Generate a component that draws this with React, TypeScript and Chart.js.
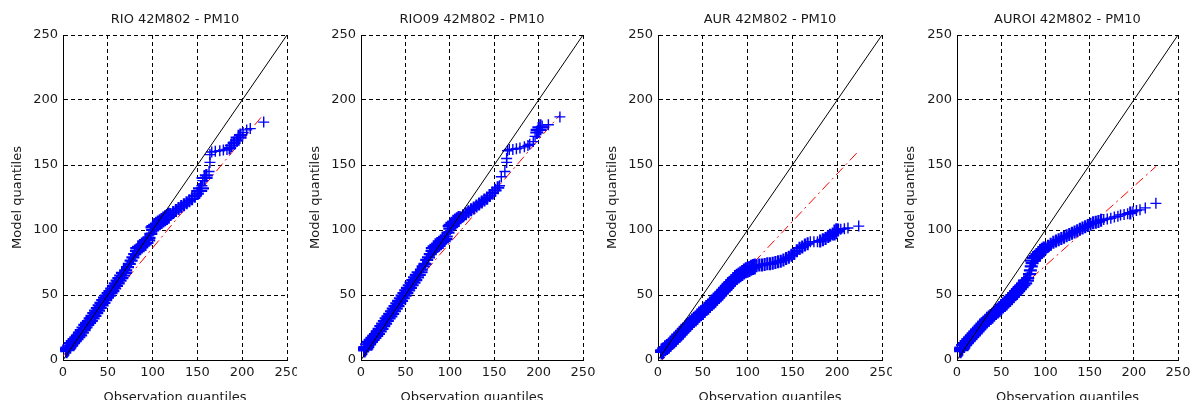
import React, { useEffect, useRef } from "react";
import { Chart, registerables } from "chart.js";

Chart.register(...registerables);

// ---------- data ----------
const panelTitles = ["RIO 42M802 - PM10", "RIO09 42M802 - PM10", "AUR 42M802 - PM10", "AUROI 42M802 - PM10"];
const xAxisTitle = "Observation quantiles";
const yAxisTitle = "Model quantiles";
const tickValues = [0, 50, 100, 150, 200, 250];

// RIO
const rioObs = [3, 4, 5, 6, 8, 10, 12, 14, 16, 18, 20, 22, 24, 26, 28, 30, 32, 34, 36, 38, 40, 42, 44, 46, 48, 50, 52, 54, 56, 58, 60, 62, 64, 66, 68, 70, 72, 74, 76, 78, 80, 82, 84, 86, 88, 90, 92, 94, 96, 98, 100, 101, 102, 104, 106, 108, 110, 112, 114, 116, 118, 120, 123, 126, 129, 132, 135, 138, 141, 144, 147, 150, 152, 154, 155, 156, 158, 160, 163, 164, 164, 166, 170, 175, 179, 183, 186, 188, 191, 194, 196, 198, 201, 205, 209, 224];
const rioMod = [6.5, 7.5, 8.5, 9.5, 11, 13, 14.5, 16, 17.5, 19, 21, 23, 25, 27, 28.5, 30, 32, 34, 36, 38, 40, 42, 44, 46, 48, 49.5, 51.5, 53, 55, 57, 59, 61, 63, 65, 67, 69, 71.5, 74, 76.5, 79, 81.5, 84, 86, 87, 88, 89, 90, 92, 94, 97, 100, 102, 103, 104, 105, 106, 107, 108, 109, 110, 111, 112, 113.5, 115, 116.5, 118, 119.5, 121, 122.5, 124, 126, 128, 130, 132, 134, 138, 140, 142, 145, 152, 158, 160, 160.5, 161, 161.5, 162, 163, 165, 167, 169, 171, 173, 175, 177, 178, 183];
const rioFitX = [0, 224];
const rioFitY = [3.2, 189.1];

// RIO09
const rio09Obs = [3, 4, 5, 6, 8, 10, 12, 14, 16, 18, 20, 22, 24, 26, 28, 30, 32, 34, 36, 38, 40, 42, 44, 46, 48, 50, 52, 54, 56, 58, 60, 62, 64, 66, 68, 70, 72, 74, 76, 78, 80, 82, 84, 86, 88, 90, 92, 94, 96, 98, 100, 101, 102, 104, 106, 108, 110, 112, 115, 118, 121, 124, 127, 130, 133, 136, 139, 142, 145, 148, 151, 154, 156, 158, 162, 164, 164, 165, 167, 171, 175, 179, 184, 188, 190, 194, 196, 198, 200, 202, 204, 211, 224];
const rio09Mod = [7, 8, 9, 10, 12, 14, 15.5, 17, 18.5, 20, 22, 24, 26, 28, 30, 32, 33.5, 35.5, 37.5, 39.5, 41.5, 43.5, 45.5, 47.5, 49.5, 51.5, 53.5, 55.5, 57.5, 59.5, 61.5, 63.5, 65.5, 67.5, 69.5, 72, 74, 77, 79, 81.5, 84, 86, 87.5, 88.5, 89.5, 90.5, 91.5, 93, 95, 98, 101, 103, 104, 105.5, 106.5, 107.5, 108.5, 109.5, 111, 112.5, 114, 115.5, 117, 118.5, 120, 121.5, 123, 124.5, 126.5, 128.5, 130.5, 132.5, 134, 141, 145, 152, 155, 161, 162, 162, 162.5, 163, 164, 165, 166, 168, 172, 175, 177, 179, 180, 181, 187];
const rio09FitX = [0, 224];
const rio09FitY = [10.5, 188.6];

// AUR
const aurObs = [3, 4, 5, 6, 8, 10, 12, 14, 16, 18, 20, 22, 24, 26, 28, 30, 32, 34, 36, 38, 40, 42, 44, 46, 48, 50, 52, 54, 56, 58, 60, 62, 64, 66, 68, 70, 72, 74, 76, 78, 80, 82, 84, 86, 88, 90, 92, 94, 96, 98, 100, 102, 104, 106, 108, 110, 113, 116, 119, 122, 125, 128, 131, 134, 137, 140, 143, 146, 149, 152, 155, 158, 161, 164, 167, 170, 174, 178, 181, 184, 187, 190, 192, 195, 197, 199, 201, 204, 208, 212, 224];
const aurMod = [6, 6.5, 7, 7.5, 9, 10, 11, 12.5, 14, 15, 16.5, 18, 19.5, 21, 22.5, 24, 25.5, 27, 28, 29.5, 31, 32, 33.5, 35, 36, 37, 38.5, 40, 41, 42.5, 44, 45, 46.5, 48, 49.5, 51, 52.5, 54, 55.5, 57, 58.5, 60, 61.5, 63, 64, 65, 66, 67, 68, 69, 69.5, 70, 71, 71.5, 72, 72.5, 73, 73, 73.5, 74, 74, 74.5, 75, 75.5, 76, 77, 78, 79, 80.5, 82, 84, 86, 87, 88.5, 89.5, 91, 91, 91, 91.5, 92.5, 93.5, 95, 96, 97, 98, 99, 100, 100.5, 101, 101.5, 103];
const aurFitX = [0, 224];
const aurFitY = [-3.4, 160.8];

// AUROI
const auroiObs = [3, 4, 5, 6, 8, 10, 12, 14, 16, 18, 20, 22, 24, 26, 28, 30, 32, 34, 36, 38, 40, 42, 44, 46, 48, 50, 52, 54, 56, 58, 60, 62, 64, 66, 68, 70, 72, 74, 76, 78, 80, 82, 83, 84, 85, 86, 88, 90, 92, 94, 96, 98, 100, 103, 106, 109, 112, 115, 118, 121, 124, 127, 130, 133, 136, 139, 142, 145, 148, 151, 154, 157, 160, 163, 166, 170, 174, 178, 182, 185, 189, 193, 196, 199, 203, 207, 213, 225];
const auroiMod = [6.5, 7.5, 8.5, 9.5, 11.5, 13, 14.5, 16, 17.5, 19, 20.5, 22, 23.5, 25, 26.5, 28, 29.5, 31, 32, 33, 34, 35.5, 37, 38, 39, 40.5, 42, 43, 44.5, 46, 47, 48.5, 50, 51.5, 53, 54.5, 56, 57.5, 59, 61, 63, 66, 69, 72, 74.5, 76.5, 78.5, 80, 81.5, 83, 84, 85, 86, 87.5, 89, 90.5, 91.5, 92.5, 93.5, 94.5, 95.5, 96.5, 97.5, 98.5, 99.5, 100.5, 101.5, 102.5, 103.5, 104.5, 105.5, 106, 106.5, 107.5, 108, 108.5, 109, 110, 110.5, 111.5, 112, 112.5, 113, 114, 115, 115.5, 117, 120.5];
const auroiFitX = [0, 225];
const auroiFitY = [11.5, 148.8];

const refLineX = [0, 250];
const refLineY = [0, 250];

// ---------- layout ----------
const CANVAS_W = 297;
const CANVAS_H = 400;
const canvasLeft = [0, 298, 595, 893];
const yAxisWidth = [63, 63, 63, 64];
const rightPad = [10, 12, 10, 12];

const FONT = "'DejaVu Sans', sans-serif";
const TEXT = "#1a1a1a";

const zip = (xs: number[], ys: number[]) => xs.map((x, i) => ({ x, y: ys[i] }));

const panels = [
  { title: panelTitles[0], obs: rioObs, mod: rioMod, fx: rioFitX, fy: rioFitY },
  { title: panelTitles[1], obs: rio09Obs, mod: rio09Mod, fx: rio09FitX, fy: rio09FitY },
  { title: panelTitles[2], obs: aurObs, mod: aurMod, fx: aurFitX, fy: aurFitY },
  { title: panelTitles[3], obs: auroiObs, mod: auroiMod, fx: auroiFitX, fy: auroiFitY },
];

const titlePlugin = {
  id: "panelTitle",
  afterDraw(chart: any, _args: any, opts: any) {
    const { ctx, chartArea } = chart;
    ctx.save();
    ctx.font = `13px ${FONT}`;
    ctx.fillStyle = TEXT;
    ctx.textAlign = "center";
    ctx.textBaseline = "middle";
    ctx.fillText(opts.text, (chartArea.left + chartArea.right) / 2, 19.5);
    ctx.restore();
  },
};

// markers packed tightly (dense band) overlap into a thick band; isolated ones stay thin
const neighbourGap = (xs: number[], ys: number[], i: number) => {
  const gap = (j: number) =>
    j < 0 || j >= xs.length ? Infinity : Math.max(Math.abs(xs[j] - xs[i]), Math.abs(ys[j] - ys[i]));
  return Math.max(gap(i - 1), gap(i + 1));
};
const markerWidth = (xs: number[], ys: number[]) => (c: any) =>
  neighbourGap(xs, ys, c.dataIndex) <= 3.2 ? 2.2 : 1.4;
const markerRadius = (xs: number[], ys: number[]) => (c: any) => {
  const g = neighbourGap(xs, ys, c.dataIndex);
  return g <= 2.2 ? 8 : g <= 3.2 ? 6.5 : 5.5;
};

function Panel({ idx }: { idx: number }) {
  const ref = useRef<HTMLCanvasElement | null>(null);
  useEffect(() => {
    const p = panels[idx];
    const axisCommon = (axisTitle: string, isX: boolean) => ({
      type: "linear" as const,
      min: 0,
      max: 250,
      afterBuildTicks: (s: any) => {
        s.ticks = tickValues.map((v) => ({ value: v }));
      },
      afterFit: (s: any) => {
        if (isX) s.height = 40;
        else s.width = yAxisWidth[idx];
        s.paddingLeft = 0;
        s.paddingRight = 0;
        s.paddingTop = 0;
        s.paddingBottom = 0;
      },
      grid: { color: "#000", lineWidth: 1, drawTicks: false },
      border: { display: true, color: "#000", width: 1, dash: [4, 3] },
      ticks: { color: TEXT, padding: 5, font: { family: FONT, size: 13 }, maxRotation: 0, autoSkip: false },
      title: {
        display: true,
        text: axisTitle,
        color: TEXT,
        font: { family: FONT, size: 13, lineHeight: 1.2 },
        padding: isX ? { top: 0, bottom: -5 } : { top: 10, bottom: 0 },
      },
    });
    const chart = new Chart(ref.current as HTMLCanvasElement, {
      type: "scatter",
      data: {
        datasets: [
          {
            label: "reference",
            type: "line",
            data: zip(refLineX, refLineY),
            borderColor: "#000",
            borderWidth: 1,
            pointRadius: 0,
            fill: false,
            order: 0,
          } as any,
          {
            label: "quantiles",
            data: zip(p.obs, p.mod),
            pointStyle: "cross",
            pointRadius: markerRadius(p.obs, p.mod),
            pointBorderWidth: markerWidth(p.obs, p.mod),
            borderColor: "#0000ff",
            backgroundColor: "#0000ff",
            showLine: false,
            clip: { left: 3, bottom: 3, top: 20, right: 20 },
            order: 1,
          } as any,
          {
            label: "fit",
            type: "line",
            data: zip(p.fx, p.fy),
            borderColor: "#ff0000",
            borderWidth: 1,
            borderDash: [10, 4, 2, 4],
            pointRadius: 0,
            fill: false,
            order: 2,
          } as any,
        ],
      },
      options: {
        animation: false,
        responsive: false,
        devicePixelRatio: 1,
        layout: { padding: { left: 0, right: rightPad[idx], top: 35, bottom: 0 }, autoPadding: false },
        plugins: {
          legend: { display: false },
          tooltip: { enabled: false },
          panelTitle: { text: p.title },
        } as any,
        scales: {
          x: { ...axisCommon(xAxisTitle, true), position: "bottom" },
          y: { ...axisCommon(yAxisTitle, false), position: "left" },
        },
      },
      plugins: [titlePlugin],
    });
    return () => chart.destroy();
  }, [idx]);
  return (
    <canvas
      ref={ref}
      width={CANVAS_W}
      height={CANVAS_H}
      style={{ position: "absolute", left: canvasLeft[idx], top: 0, width: CANVAS_W, height: CANVAS_H }}
    />
  );
}

export default function App() {
  return (
    <div style={{ position: "absolute", left: 0, top: 0, width: 1190, height: 400, background: "#fff", overflow: "hidden" }}>
      {panels.map((_, i) => (
        <Panel key={i} idx={i} />
      ))}
    </div>
  );
}
